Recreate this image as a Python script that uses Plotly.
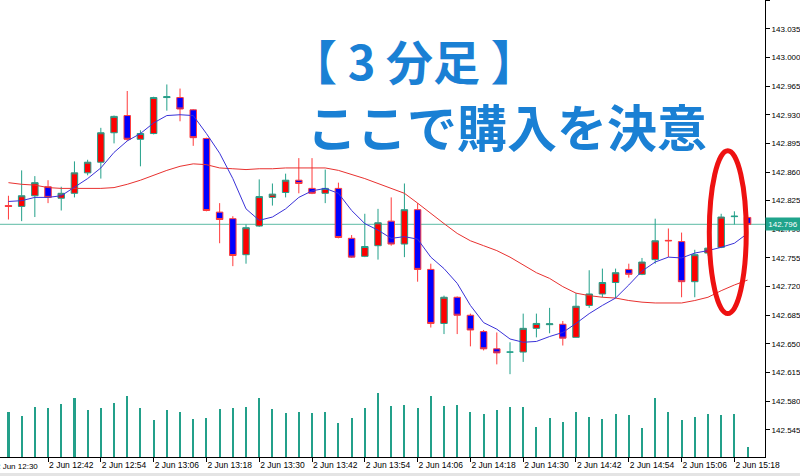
import plotly.graph_objects as go

# ---- data (3-minute candles, 2 Jun 12:33 .. 15:21) ----
opens = [142.819, 142.818, 142.831, 142.842, 142.828, 142.834, 142.859, 142.872, 142.908, 142.929,
         142.900, 142.907, 142.951, 142.951, 142.936, 142.901, 142.811, 142.803, 142.759, 142.794,
         142.829, 142.835, 142.850, 142.840, 142.834, 142.840, 142.779, 142.757, 142.770, 142.800,
         142.772, 142.814, 142.741, 142.675, 142.707, 142.685, 142.665, 142.644, 142.640, 142.640,
         142.669, 142.6735, 142.674, 142.658, 142.697, 142.711, 142.725, 142.741, 142.735, 142.753,
         142.7765, 142.775, 142.726, 142.761, 142.768, 142.8055, 142.8045]
highs = [142.831, 142.862, 142.855, 142.850, 142.842, 142.873, 142.875, 142.914, 142.929, 142.959,
         142.911, 142.952, 142.967, 142.962, 142.937, 142.902, 142.822, 142.806, 142.796, 142.851,
         142.846, 142.858, 142.877, 142.877, 142.863, 142.847, 142.783, 142.809, 142.815, 142.829,
         142.846, 142.822, 142.748, 142.709, 142.708, 142.687, 142.667, 142.664, 142.652, 142.687,
         142.687, 142.694, 142.678, 142.712, 142.740, 142.742, 142.742, 142.748, 142.755, 142.803,
         142.791, 142.786, 142.765, 142.769, 142.809, 142.812, 142.807]
lows = [142.802, 142.800, 142.805, 142.822, 142.813, 142.829, 142.856, 142.852, 142.895, 142.898,
        142.867, 142.906, 142.935, 142.922, 142.892, 142.812, 142.773, 142.745, 142.748, 142.793,
        142.819, 142.829, 142.834, 142.833, 142.822, 142.779, 142.755, 142.756, 142.753, 142.770,
        142.756, 142.726, 142.670, 142.662, 142.662, 142.647, 142.642, 142.625, 142.613, 142.628,
        142.658, 142.663, 142.648, 142.658, 142.694, 142.707, 142.706, 142.731, 142.734, 142.748,
        142.756, 142.707, 142.707, 142.758, 142.767, 142.796, 142.795]
closes = [142.818, 142.831, 142.847, 142.829, 142.834, 142.859, 142.872, 142.908, 142.928, 142.900,
          142.907, 142.951, 142.952, 142.937, 142.902, 142.813, 142.802, 142.758, 142.792, 142.830,
          142.833, 142.850, 142.846, 142.834, 142.840, 142.780, 142.756, 142.769, 142.798, 142.772,
          142.814, 142.741, 142.675, 142.707, 142.685, 142.667, 142.644, 142.639, 142.640, 142.669,
          142.675, 142.6745, 142.657, 142.696, 142.711, 142.725, 142.737, 142.735, 142.750, 142.776,
          142.776, 142.726, 142.759, 142.767, 142.805, 142.806, 142.796]
ma_fast = [142.824, 142.825, 142.829, 142.829, 142.831, 142.841, 142.852, 142.865, 142.884, 142.898,
           142.907, 142.920, 142.929, 142.930, 142.929, 142.907, 142.883, 142.852, 142.815, 142.801,
           142.805, 142.815, 142.829, 142.837, 142.840, 142.834, 142.813, 142.797, 142.789, 142.779,
           142.781, 142.778, 142.756, 142.742, 142.724, 142.697, 142.676, 142.668, 142.656, 142.652,
           142.653, 142.659, 142.664, 142.675, 142.687, 142.697, 142.706, 142.722, 142.739, 142.750,
           142.756, 142.755, 142.761, 142.764, 142.768, 142.773, 142.785]
ma_slow = [142.847, 142.845, 142.844, 142.841, 142.840, 142.840, 142.840, 142.840, 142.841, 142.845,
           142.850, 142.856, 142.862, 142.867, 142.870, 142.869, 142.865, 142.864, 142.863, 142.864,
           142.864, 142.865, 142.865, 142.865, 142.865, 142.862, 142.857, 142.852, 142.846, 142.840,
           142.834, 142.822, 142.809, 142.797, 142.785, 142.776, 142.770, 142.764, 142.756, 142.747,
           142.737, 142.730, 142.720, 142.712, 142.709, 142.707, 142.706, 142.703, 142.701, 142.700,
           142.700, 142.700, 142.703, 142.707, 142.715, 142.722, 142.728]
volumes = [135, 123, 150, 147, 159, 177, 141, 147, 162, 183,
           147, 111, 141, 135, 114, 117, 144, 147, 150, 177,
           144, 132, 135, 132, 135, 102, 117, 147, 192, 153,
           156, 147, 183, 153, 156, 135, 129, 141, 150, 150,
           90, 117, 105, 135, 120, 114, 129, 126, 87, 177,
           135, 111, 120, 129, 126, 129, 30]
tick_pos = [3, 7, 11, 15, 19, 23, 27, 31, 35, 39, 43, 47, 51, 55]
tick_labels = ["2 Jun 12:42", "2 Jun 12:54", "2 Jun 13:06", "2 Jun 13:18", "2 Jun 13:30",
               "2 Jun 13:42", "2 Jun 13:54", "2 Jun 14:06", "2 Jun 14:18", "2 Jun 14:30",
               "2 Jun 14:42", "2 Jun 14:54", "2 Jun 15:06", "2 Jun 15:18"]
first_tick_pos = -1
first_tick_label = "2 Jun 12:30"
price_ticks = [142.545, 142.580, 142.615, 142.650, 142.685, 142.720, 142.755, 142.790,
               142.825, 142.860, 142.895, 142.930, 142.965, 143.000, 143.035, 143.070]
last_price = 142.796
title1 = "【 3 分足 】"
title2 = "ここで購入を決意"

xs = list(range(len(opens)))
x_range = [-0.64, 57.32]
y_range = [142.5118, 143.0702]

TEAL = "#23a08a"
AXFONT = dict(family="Liberation Sans", size=8, color="#000")
fig = go.Figure()

fig.add_trace(go.Bar(x=xs, y=volumes, yaxis="y2", width=0.16,
                     marker=dict(color=TEAL, line=dict(width=0)), hoverinfo="skip"))
fig.add_trace(go.Scatter(x=xs, y=ma_slow, mode="lines",
                         line=dict(color="#e8312f", width=1), hoverinfo="skip"))
fig.add_trace(go.Candlestick(x=xs, open=opens, high=highs, low=lows, close=closes,
                             increasing=dict(fillcolor="#ff0000", line=dict(color=TEAL, width=1)),
                             decreasing=dict(fillcolor="#0000ff", line=dict(color="#ff3b3b", width=1)),
                             whiskerwidth=0, hoverinfo="skip"))
fig.add_trace(go.Scatter(x=xs, y=ma_fast, mode="lines",
                         line=dict(color="#3a32d8", width=1), hoverinfo="skip"))

# current price line
fig.add_hline(y=last_price, line=dict(color="#7cc8b6", width=1.2), layer="below")

# red ellipse highlight
fig.add_shape(type="circle", xref="x", yref="y", x0=53.1, x1=55.9, y0=142.687, y1=142.886,
              line=dict(color="#ee1111", width=5))


def xpaper(v):
    return (v - x_range[0]) / (x_range[1] - x_range[0])


fig.add_annotation(xref="paper", yref="paper", x=xpaper(first_tick_pos), y=0,
                   xanchor="left", yanchor="top", yshift=-3, xshift=-1, showarrow=False,
                   text=first_tick_label, font=AXFONT)

# current price label
fig.add_annotation(xref="paper", yref="y", x=1, y=last_price, xanchor="left", yanchor="middle",
                   showarrow=False, text=f"{last_price:.3f}", bgcolor="#1fa48c",
                   width=34, height=12, borderpad=0,
                   font=dict(family="Liberation Sans", size=8, color="white"))

fig.add_annotation(xref="paper", yref="paper", x=414 / 765, y=1 - 59 / 457,
                   xanchor="center", yanchor="middle", showarrow=False,
                   text=f"<b>{title1}</b>",
                   font=dict(family="Noto Sans CJK JP", size=47, color="#1a80d4"))
fig.add_annotation(xref="paper", yref="paper", x=507 / 765, y=1 - 125 / 457,
                   xanchor="center", yanchor="middle", showarrow=False,
                   text=f"<b>{title2}</b>",
                   font=dict(family="Noto Sans CJK JP", size=50, color="#1a80d4"))

# window frame strip at bottom
fig.add_shape(type="rect", xref="paper", yref="paper", x0=-0.01, x1=1.1,
              y0=-20 / 457, y1=-16 / 457, fillcolor="#e4e4e4", line=dict(width=0))

fig.update_layout(
    width=800, height=476,
    margin=dict(l=0, r=35, t=0, b=19, autoexpand=False),
    paper_bgcolor="white", plot_bgcolor="white",
    showlegend=False,
    xaxis=dict(range=x_range, tickmode="array", tickvals=tick_pos, ticktext=tick_labels,
               ticks="outside", ticklen=4, tickcolor="#000", showline=True, linecolor="#000",
               linewidth=1, ticklabelposition="outside right", tickangle=0, automargin=False,
               showgrid=False, zeroline=False, rangeslider=dict(visible=False), fixedrange=True,
               tickfont=dict(family="Liberation Sans", size=8.5, color="#000")),
    yaxis=dict(range=y_range, side="right", tickmode="array", tickvals=price_ticks,
               ticktext=[f"{v:.3f}" for v in price_ticks], ticks="outside", ticklen=4,
               tickcolor="#000", showline=True, linecolor="#000", linewidth=1, automargin=False,
               showgrid=False, zeroline=False, fixedrange=True, tickfont=AXFONT),
    yaxis2=dict(range=[0, 1371], overlaying="y", visible=False, fixedrange=True),
    bargap=0,
)

fig.write_html("out.html", config={"displayModeBar": False},
               post_script="document.body.style.margin='0';document.body.style.padding='0';")
